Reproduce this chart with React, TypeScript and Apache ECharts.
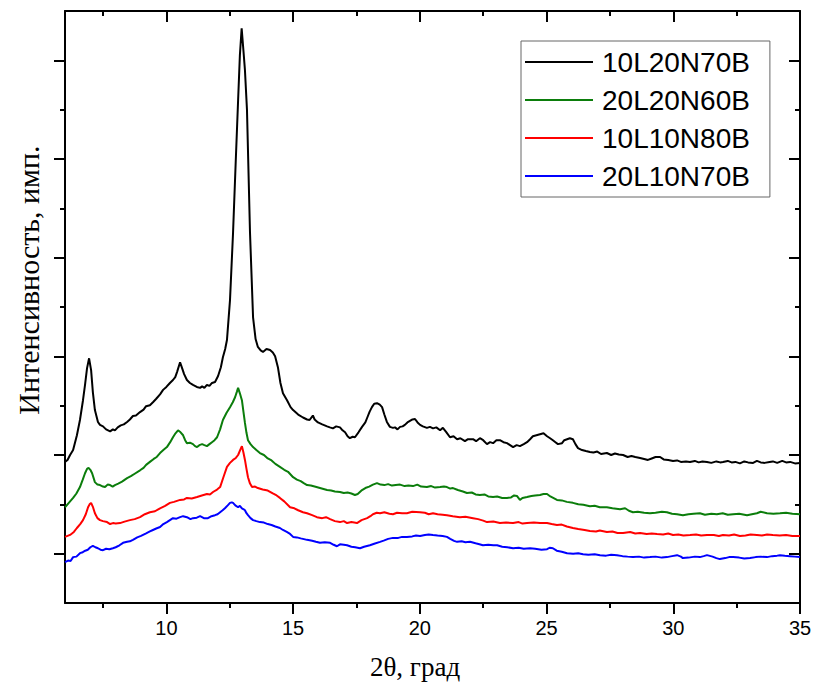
import React, { useEffect, useRef } from "react";
import * as echarts from "echarts";

// 2θ tick values
const xMajorTicks = [10, 15, 20, 25, 30, 35];
const xMinorTicks = [7.5, 12.5, 17.5, 22.5, 27.5, 32.5];
// intensity tick values (arbitrary units)
const yMajorTicks = [100, 300, 500, 700, 900, 1100];
const yMinorTicks = [200, 400, 600, 800, 1000];

const seriesNames = ["10L20N70B", "20L20N60B", "10L10N80B", "20L10N70B"];
const seriesColors = ["#000000", "#0b7d0b", "#ff0000", "#0000ff"];

// [2θ, intensity]
const black10L20N70B: [number, number][] = [
  [6.0, 286], [6.1, 290], [6.2, 300], [6.32, 310], [6.47, 340], [6.59, 371], [6.71, 411], [6.79, 442], [6.87, 476], [6.95, 496],
  [7.03, 472], [7.1, 427], [7.18, 391], [7.3, 367], [7.38, 361], [7.5, 358], [7.62, 352], [7.78, 348], [7.89, 352], [7.97, 350],
  [8.08, 356], [8.2, 360], [8.32, 362], [8.45, 367], [8.56, 372], [8.68, 379], [8.8, 380], [8.96, 387], [9.1, 392], [9.2, 399],
  [9.35, 401], [9.47, 407], [9.6, 414], [9.75, 423], [9.87, 432], [10.0, 438], [10.14, 446], [10.26, 452], [10.35, 458], [10.42, 468],
  [10.54, 488], [10.62, 476], [10.7, 464], [10.81, 452], [10.93, 446], [11.05, 442], [11.2, 438], [11.33, 436], [11.41, 439], [11.5, 436],
  [11.6, 442], [11.7, 440], [11.8, 446], [11.92, 448], [12.04, 460], [12.15, 478], [12.23, 498], [12.32, 515], [12.39, 533], [12.51, 614],
  [12.63, 750], [12.74, 900], [12.83, 1019], [12.9, 1110], [12.97, 1165], [13.04, 1120], [13.1, 1080], [13.18, 1000], [13.3, 750], [13.42, 579],
  [13.52, 535], [13.61, 519], [13.72, 512], [13.81, 509], [13.95, 515], [14.09, 513], [14.2, 508], [14.29, 500], [14.4, 478], [14.5, 446],
  [14.6, 425], [14.76, 411], [14.9, 397], [15.0, 391], [15.2, 382], [15.39, 376], [15.55, 372], [15.65, 371], [15.78, 380], [15.85, 372],
  [15.98, 366], [16.15, 362], [16.34, 358], [16.45, 356], [16.57, 354], [16.7, 358], [16.85, 356], [16.95, 350], [17.05, 346], [17.15, 338],
  [17.24, 334], [17.35, 337], [17.44, 336], [17.58, 346], [17.72, 357], [17.85, 366], [17.92, 375], [18.02, 388], [18.11, 397], [18.2, 404],
  [18.31, 405], [18.42, 402], [18.51, 397], [18.6, 382], [18.7, 367], [18.82, 357], [18.94, 355], [19.02, 356], [19.12, 352], [19.22, 357],
  [19.32, 358], [19.41, 361], [19.51, 366], [19.61, 369], [19.71, 372], [19.81, 373], [19.91, 366], [20.01, 361], [20.12, 358], [20.28, 355],
  [20.4, 357], [20.52, 354], [20.65, 356], [20.8, 350], [20.91, 355], [21.05, 346], [21.19, 336], [21.33, 338], [21.47, 332], [21.6, 334],
  [21.78, 328], [21.9, 332], [22.1, 332], [22.22, 328], [22.37, 334], [22.5, 330], [22.65, 322], [22.77, 326], [22.89, 324], [23.02, 330],
  [23.16, 330], [23.3, 326], [23.44, 324], [23.56, 320], [23.68, 316], [23.82, 320], [23.95, 318], [24.1, 322], [24.23, 326], [24.35, 332],
  [24.46, 338], [24.6, 340], [24.74, 342], [24.88, 344], [25.02, 338], [25.14, 334], [25.25, 330], [25.35, 326], [25.45, 322], [25.61, 324],
  [25.7, 330], [25.81, 332], [25.92, 334], [26.04, 332], [26.14, 322], [26.24, 314], [26.4, 310], [26.55, 308], [26.71, 306], [26.85, 305],
  [27.0, 307], [27.15, 302], [27.38, 304], [27.55, 300], [27.7, 303], [27.85, 301], [28.02, 300], [28.2, 296], [28.35, 298], [28.5, 296],
  [28.69, 294], [28.85, 292], [29.0, 290], [29.15, 293], [29.3, 296], [29.48, 296], [29.62, 291], [29.8, 290], [29.99, 288], [30.15, 289],
  [30.3, 286], [30.5, 287], [30.66, 286], [30.85, 288], [31.0, 285], [31.15, 287], [31.33, 286], [31.5, 284], [31.7, 287], [31.85, 285],
  [31.96, 286], [32.15, 288], [32.3, 285], [32.45, 286], [32.63, 283], [32.8, 287], [32.95, 285], [33.15, 284], [33.3, 288], [33.45, 285],
  [33.6, 284], [33.8, 286], [33.93, 287], [34.1, 284], [34.3, 288], [34.45, 285], [34.61, 286], [34.8, 283], [35.0, 284],
];

const green20L20N60B: [number, number][] = [
  [6.0, 194], [6.15, 203], [6.32, 213], [6.45, 222], [6.59, 235], [6.7, 250], [6.79, 263], [6.87, 272], [6.93, 274], [7.0, 270],
  [7.07, 263], [7.18, 245], [7.28, 240], [7.38, 239], [7.5, 236], [7.58, 235], [7.68, 240], [7.78, 239], [7.88, 236], [7.97, 239],
  [8.1, 242], [8.25, 246], [8.45, 253], [8.6, 257], [8.75, 262], [8.96, 269], [9.1, 274], [9.2, 280], [9.35, 286], [9.5, 292],
  [9.62, 296], [9.75, 304], [9.88, 310], [10.02, 316], [10.15, 326], [10.26, 336], [10.36, 344], [10.46, 350], [10.56, 346], [10.66, 340],
  [10.74, 330], [10.81, 324], [10.93, 325], [11.05, 322], [11.13, 318], [11.21, 316], [11.3, 320], [11.41, 322], [11.5, 320], [11.6, 318],
  [11.7, 322], [11.8, 326], [11.9, 330], [12.0, 336], [12.12, 352], [12.23, 371], [12.37, 385], [12.51, 397], [12.62, 407], [12.71, 417],
  [12.78, 428], [12.83, 436], [12.9, 425], [12.98, 411], [13.04, 388], [13.1, 365], [13.16, 345], [13.22, 330], [13.32, 322], [13.42, 316],
  [13.55, 310], [13.69, 304], [13.85, 300], [14.0, 293], [14.15, 289], [14.3, 282], [14.48, 276], [14.65, 270], [14.8, 266], [15.0, 255],
  [15.15, 250], [15.3, 247], [15.42, 243], [15.55, 239], [15.7, 238], [15.85, 236], [16.06, 233], [16.2, 231], [16.34, 229], [16.5, 228],
  [16.65, 226], [16.85, 225], [17.0, 223], [17.15, 224], [17.3, 222], [17.44, 219], [17.55, 221], [17.72, 229], [17.85, 233], [18.0, 236],
  [18.15, 240], [18.31, 243], [18.45, 240], [18.6, 239], [18.75, 241], [18.9, 238], [19.05, 239], [19.22, 240], [19.4, 237], [19.55, 238],
  [19.73, 237], [19.9, 240], [20.05, 236], [20.28, 235], [20.45, 237], [20.6, 234], [20.8, 235], [20.95, 236], [21.07, 235], [21.2, 232],
  [21.31, 233], [21.5, 229], [21.7, 226], [21.86, 223], [22.05, 224], [22.2, 220], [22.37, 219], [22.55, 220], [22.7, 216], [22.89, 215],
  [23.05, 216], [23.25, 213], [23.44, 213], [23.6, 214], [23.72, 218], [23.83, 217], [23.95, 209], [24.05, 213], [24.23, 215], [24.4, 217],
  [24.55, 218], [24.74, 219], [24.88, 221], [25.02, 221], [25.15, 216], [25.3, 212], [25.41, 209], [25.6, 208], [25.8, 205], [26.04, 203],
  [26.25, 200], [26.45, 199], [26.71, 196], [26.9, 197], [27.1, 194], [27.38, 194], [27.6, 192], [27.9, 190], [28.1, 192], [28.25, 187],
  [28.41, 184], [28.6, 185], [28.85, 183], [29.08, 182], [29.3, 183], [29.55, 185], [29.75, 184], [29.95, 181], [30.15, 180], [30.38, 178],
  [30.6, 180], [30.8, 181], [31.05, 182], [31.25, 179], [31.5, 181], [31.72, 180], [31.95, 182], [32.15, 179], [32.36, 180], [32.6, 181],
  [32.91, 178], [33.1, 180], [33.3, 182], [33.45, 185], [33.7, 182], [33.95, 181], [34.21, 182], [34.45, 183], [34.7, 181], [35.0, 180],
];

const red10L10N80B: [number, number][] = [
  [6.0, 134], [6.2, 138], [6.35, 144], [6.47, 152], [6.6, 160], [6.71, 168], [6.82, 180], [6.91, 194], [6.97, 200], [7.03, 203],
  [7.1, 195], [7.18, 182], [7.28, 172], [7.38, 168], [7.5, 166], [7.66, 164], [7.78, 160], [7.89, 162], [8.0, 161], [8.17, 162],
  [8.35, 165], [8.56, 168], [8.75, 170], [8.96, 174], [9.15, 180], [9.35, 184], [9.55, 186], [9.75, 192], [9.95, 197], [10.14, 203],
  [10.3, 205], [10.54, 209], [10.7, 210], [10.81, 213], [11.0, 212], [11.21, 215], [11.4, 218], [11.6, 221], [11.72, 220], [11.84, 225],
  [12.0, 230], [12.12, 235], [12.25, 255], [12.39, 276], [12.51, 284], [12.63, 290], [12.74, 294], [12.83, 300], [12.91, 310], [12.98, 318],
  [13.04, 305], [13.1, 290], [13.16, 272], [13.22, 255], [13.3, 242], [13.38, 235], [13.5, 236], [13.61, 233], [13.8, 230], [14.0, 228],
  [14.2, 222], [14.35, 218], [14.48, 213], [14.65, 206], [14.88, 194], [15.05, 192], [15.2, 188], [15.39, 184], [15.55, 182], [15.75, 178],
  [15.94, 174], [16.15, 172], [16.3, 174], [16.46, 170], [16.65, 166], [16.85, 164], [17.0, 166], [17.13, 162], [17.3, 164], [17.52, 162],
  [17.7, 168], [17.92, 172], [18.05, 176], [18.15, 180], [18.3, 183], [18.43, 182], [18.6, 184], [18.8, 181], [18.94, 180], [19.1, 183],
  [19.3, 182], [19.49, 182], [19.7, 185], [20.01, 184], [20.2, 183], [20.35, 180], [20.52, 182], [20.7, 180], [20.9, 179], [21.07, 178],
  [21.3, 176], [21.58, 174], [21.8, 175], [22.1, 172], [22.3, 170], [22.5, 167], [22.65, 164], [22.9, 165], [23.16, 162], [23.4, 163],
  [23.68, 162], [23.9, 164], [24.05, 161], [24.23, 162], [24.5, 163], [24.74, 162], [25.02, 162], [25.2, 160], [25.41, 158], [25.6, 159],
  [25.8, 155], [26.04, 152], [26.25, 150], [26.5, 148], [26.71, 146], [26.95, 145], [27.1, 147], [27.38, 144], [27.6, 145], [27.8, 142],
  [28.02, 142], [28.3, 144], [28.5, 141], [28.69, 142], [28.95, 140], [29.15, 141], [29.36, 140], [29.6, 139], [29.8, 141], [29.99, 138],
  [30.2, 139], [30.4, 137], [30.66, 138], [30.9, 139], [31.1, 137], [31.33, 138], [31.6, 138], [31.8, 136], [31.96, 138], [32.2, 137],
  [32.4, 139], [32.63, 136], [32.85, 137], [33.05, 139], [33.3, 138], [33.5, 137], [33.7, 139], [33.93, 138], [34.2, 137], [34.45, 138],
  [34.7, 136], [35.0, 136],
];

const blue20L10N70B: [number, number][] = [
  [6.0, 83], [6.12, 86], [6.22, 85], [6.32, 93], [6.45, 94], [6.59, 101], [6.7, 103], [6.8, 106], [6.9, 108], [7.0, 113],
  [7.1, 116], [7.2, 113], [7.3, 111], [7.4, 108], [7.5, 107], [7.62, 110], [7.75, 109], [7.89, 111], [8.0, 113], [8.15, 117],
  [8.29, 122], [8.45, 124], [8.56, 125], [8.68, 128], [8.85, 133], [9.0, 136], [9.08, 138], [9.2, 141], [9.35, 145], [9.47, 148],
  [9.6, 151], [9.75, 154], [9.88, 160], [10.02, 164], [10.14, 168], [10.26, 172], [10.4, 171], [10.54, 174], [10.66, 176], [10.81, 174],
  [10.95, 170], [11.05, 172], [11.2, 173], [11.33, 176], [11.48, 172], [11.64, 172], [11.78, 176], [11.92, 178], [12.02, 180], [12.12, 184],
  [12.22, 188], [12.31, 192], [12.42, 198], [12.51, 203], [12.58, 204], [12.63, 203], [12.72, 198], [12.83, 194], [12.9, 197], [12.98, 192],
  [13.05, 190], [13.1, 188], [13.16, 182], [13.22, 178], [13.32, 172], [13.42, 168], [13.55, 166], [13.69, 164], [13.85, 163], [14.0, 160],
  [14.15, 158], [14.3, 155], [14.48, 152], [14.6, 148], [14.75, 144], [14.88, 140], [15.0, 134], [15.15, 133], [15.3, 131], [15.55, 128],
  [15.75, 126], [15.9, 124], [16.06, 122], [16.25, 123], [16.46, 122], [16.6, 118], [16.73, 115], [16.85, 119], [17.0, 118], [17.13, 117],
  [17.3, 114], [17.45, 113], [17.64, 111], [17.8, 114], [18.03, 117], [18.2, 120], [18.43, 124], [18.6, 127], [18.75, 130], [18.94, 132],
  [19.15, 132], [19.3, 134], [19.49, 134], [19.7, 135], [19.85, 137], [20.01, 136], [20.2, 138], [20.35, 139], [20.52, 138], [20.7, 137],
  [20.9, 136], [21.07, 134], [21.2, 130], [21.35, 126], [21.47, 124], [21.65, 125], [21.8, 123], [21.98, 124], [22.2, 121], [22.35, 119],
  [22.49, 117], [22.7, 118], [22.9, 117], [23.05, 117], [23.25, 114], [23.45, 113], [23.68, 111], [23.9, 112], [24.1, 110], [24.35, 111],
  [24.55, 110], [24.8, 108], [25.02, 109], [25.12, 112], [25.25, 111], [25.4, 106], [25.6, 104], [25.81, 101], [26.05, 100], [26.25, 101],
  [26.44, 99], [26.65, 98], [26.9, 99], [27.11, 97], [27.35, 96], [27.55, 98], [27.78, 97], [28.0, 95], [28.2, 94], [28.41, 93],
  [28.65, 94], [28.85, 92], [29.08, 93], [29.3, 94], [29.55, 92], [29.75, 93], [29.95, 95], [30.15, 97], [30.3, 94], [30.38, 91],
  [30.6, 92], [30.85, 94], [31.05, 93], [31.2, 95], [31.33, 97], [31.55, 94], [31.7, 91], [31.84, 89], [32.05, 91], [32.2, 93],
  [32.36, 93], [32.6, 92], [32.8, 90], [33.03, 91], [33.25, 93], [33.45, 94], [33.7, 93], [33.9, 95], [34.1, 96], [34.21, 97],
  [34.4, 96], [34.6, 95], [34.8, 94], [35.0, 93],
];

const allSeries = [black10L20N70B, green20L20N60B, red10L10N80B, blue20L10N70B];

const X_MIN = 6;
const X_MAX = 35;
const Y_MIN = 0;
const Y_MAX = 1200;

const sans = "'Liberation Sans', Arial, sans-serif";
const serif = "'Liberation Serif', 'Times New Roman', serif";

function xAx(gridIndex: number, position: "top" | "bottom", ticks: number[], len: number, inside: boolean, showLine: boolean, labels: boolean) {
  return {
    type: "value",
    gridIndex,
    position,
    min: X_MIN,
    max: X_MAX,
    axisLine: { show: showLine, onZero: false, lineStyle: { color: "#000", width: 2 } },
    axisTick: { show: true, inside, length: len, customValues: ticks, lineStyle: { color: "#000", width: 2 } },
    axisLabel: labels
      ? { show: true, customValues: ticks, color: "#000", fontSize: 20, fontFamily: sans, margin: 15 }
      : { show: false },
    splitLine: { show: false },
  };
}

function yAx(gridIndex: number, position: "left" | "right", ticks: number[], len: number, inside: boolean, showLine: boolean) {
  return {
    type: "value",
    gridIndex,
    position,
    min: Y_MIN,
    max: Y_MAX,
    axisLine: { show: showLine, onZero: false, lineStyle: { color: "#000", width: 2 } },
    axisTick: { show: true, inside, length: len, customValues: ticks, lineStyle: { color: "#000", width: 2 } },
    axisLabel: { show: false },
    splitLine: { show: false },
  };
}

export default function App() {
  const ref = useRef<HTMLDivElement>(null);
  useEffect(() => {
    if (!ref.current) return;
    const chart = echarts.init(ref.current, null, { renderer: "svg" });
    const grid = { left: 65, right: 17, top: 11, bottom: 81, containLabel: false };
    chart.setOption({
      animation: false,
      backgroundColor: "#fff",
      grid: [grid, { ...grid }],
      xAxis: [
        xAx(0, "bottom", xMajorTicks, 11, false, true, true),
        xAx(0, "top", xMajorTicks, 11, true, true, false),
        xAx(1, "bottom", xMinorTicks, 5, false, false, false),
        xAx(1, "top", xMinorTicks, 5, true, false, false),
      ],
      yAxis: [
        yAx(0, "left", yMajorTicks, 11, false, true),
        yAx(0, "right", yMajorTicks, 11, true, true),
        yAx(1, "left", yMinorTicks, 5, false, false),
        yAx(1, "right", yMinorTicks, 5, true, false),
      ],
      legend: {
        orient: "vertical",
        left: 521,
        top: 41,
        padding: [6, 20, 6, 4],
        icon: "rect",
        itemWidth: 68,
        itemHeight: 2,
        itemGap: 8,
        borderColor: "#666",
        borderWidth: 1,
        backgroundColor: "#fff",
        textStyle: { color: "#000", fontSize: 28, lineHeight: 30, fontFamily: sans, padding: [0, 0, 0, 4] },
        data: seriesNames,
      },
      graphic: [
        {
          type: "text",
          x: 415,
          y: 667,
          style: { text: "2θ, град", fontSize: 27, fontFamily: serif, fill: "#000", align: "center", verticalAlign: "middle" },
        },
        {
          type: "text",
          x: 28,
          y: 280,
          rotation: Math.PI / 2,
          style: { text: "Интенсивность, имп.", fontSize: 30, fontFamily: serif, fill: "#000", align: "center", verticalAlign: "middle" },
        },
      ],
      series: allSeries.map((data, i) => ({
        name: seriesNames[i],
        type: "line",
        xAxisIndex: 0,
        yAxisIndex: 0,
        data,
        symbol: "none",
        color: seriesColors[i],
        lineStyle: { color: seriesColors[i], width: 2 },
      })),
    });
    return () => chart.dispose();
  }, []);
  return <div ref={ref} style={{ position: "fixed", left: 0, top: 0, width: 817, height: 684 }} />;
}
